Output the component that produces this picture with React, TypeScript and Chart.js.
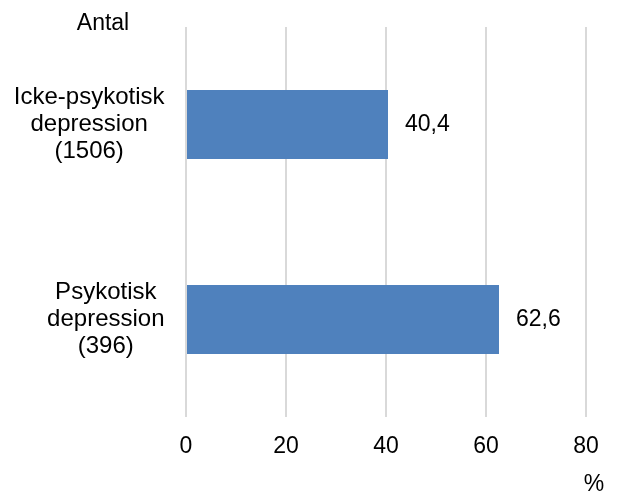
import React, { useEffect, useRef } from "react";
import { Chart, registerables } from "chart.js";

Chart.register(...registerables);

const categories: string[][] = [
  ["Icke-psykotisk", "depression", "(1506)"],
  ["Psykotisk", "depression", "(396)"],
];
const values: number[] = [40.4, 62.6];
const xTicks: number[] = [0, 20, 40, 60, 80];
const yTitle = "Antal";
const xTitle = "%";

const FONT = "Liberation Sans, Arial, sans-serif";
const FS = 23;
const CAT_FS = 24;

const labelPlugin = {
  id: "customLabels",
  afterDraw(chart: any) {
    const ctx = chart.ctx;
    const ca = chart.chartArea;
    const yScale = chart.scales.y;
    ctx.save();
    ctx.fillStyle = "#000";
    ctx.textBaseline = "middle";
    // category labels
    ctx.font = `${CAT_FS}px ${FONT}`;
    const lineH = 27;
    const rightEdge = ca.left - 21.5;
    categories.forEach((lines, i) => {
      const cy = yScale.getPixelForValue(i);
      const w = Math.max(...lines.map((l) => ctx.measureText(l).width));
      const cx = rightEdge - w / 2;
      ctx.textAlign = "center";
      lines.forEach((l, j) => {
        ctx.fillText(l, cx, cy + (j - (lines.length - 1) / 2) * lineH);
      });
    });
    // value labels
    ctx.font = `${FS}px ${FONT}`;
    const meta = chart.getDatasetMeta(0);
    meta.data.forEach((bar: any, i: number) => {
      ctx.textAlign = "left";
      ctx.fillText(values[i].toFixed(1).replace(".", ","), bar.x + 17, bar.y);
    });
    // titles
    ctx.textAlign = "center";
    ctx.fillText(yTitle, 103, 23.5);
    ctx.fillText(xTitle, 594, 485);
    ctx.restore();
  },
};

export default function App() {
  const ref = useRef<HTMLCanvasElement | null>(null);
  useEffect(() => {
    if (!ref.current) return;
    const chart = new Chart(ref.current, {
      type: "bar",
      data: {
        labels: categories.map((c) => c.join(" ")),
        datasets: [
          {
            data: values,
            backgroundColor: "#4F81BD",
            borderWidth: 0,
            categoryPercentage: 1,
            barPercentage: 0.354,
          },
        ],
      },
      options: {
        indexAxis: "y",
        animation: false,
        responsive: false,
        maintainAspectRatio: false,
        layout: { padding: { top: 27, right: 31, left: 0, bottom: 0 } },
        plugins: {
          legend: { display: false },
          tooltip: { enabled: false },
          title: { display: false },
        },
        scales: {
          x: {
            min: 0,
            max: 80,
            afterBuildTicks: (scale: any) => {
              scale.ticks = xTicks.map((v) => ({ value: v }));
            },
            afterFit: (scale: any) => {
              scale.height = 79;
            },
            grid: {
              display: true,
              color: "#d9d9d9",
              lineWidth: 2,
              drawTicks: false,
            },
            border: { display: false },
            ticks: {
              color: "#000",
              font: { family: FONT, size: FS },
              padding: 16,
              maxRotation: 0,
            },
          },
          y: {
            afterFit: (scale: any) => {
              scale.width = 186;
            },
            grid: { display: false },
            border: { display: false },
            ticks: { display: false },
          },
        },
      },
      plugins: [labelPlugin],
    } as any);
    return () => chart.destroy();
  }, []);
  return (
    <div style={{ position: "absolute", left: 0, top: 0, width: 617, height: 496, background: "#fff" }}>
      <canvas ref={ref} width={617} height={496} style={{ width: 617, height: 496, display: "block" }} />
    </div>
  );
}
